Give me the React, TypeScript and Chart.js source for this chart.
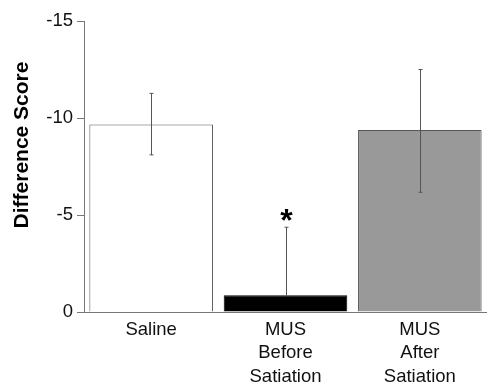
import React, { useEffect, useRef } from "react";
import { Chart, registerables } from "chart.js";

Chart.register(...registerables);

const categories: (string | string[])[] = ["Saline", ["MUS", "Before", "Satiation"], ["MUS", "After", "Satiation"]];
const means = [-9.67, -0.86, -9.38];
const errUpper = [-11.27, -4.37, -12.5];
const errLower: (number | null)[] = [-8.1, null, -6.17];
const significant = [false, true, false];
const yTicks = [0, -5, -10, -15];
const fills = ["#ffffff", "#000000", "#999999"];
const borders = ["#555555", "#000000", "#555555"];

const FONT = "'Liberation Sans', Arial, sans-serif";

const errorBarPlugin = {
  id: "errorBars",
  afterDatasetsDraw(chart: any) {
    const ctx = chart.ctx;
    const meta = chart.getDatasetMeta(0);
    const y = chart.scales.y;
    ctx.save();
    ctx.strokeStyle = "#555555";
    ctx.lineWidth = 1;
    meta.data.forEach((bar: any, i: number) => {
      const x = Math.round(bar.x) + 0.5;
      const yMean = y.getPixelForValue(means[i]);
      const yTop = y.getPixelForValue(errUpper[i]);
      const low = errLower[i];
      const yBot = low === null ? yMean : y.getPixelForValue(low);
      ctx.beginPath();
      ctx.moveTo(x, yTop);
      ctx.lineTo(x, yBot);
      ctx.moveTo(x - 2, yTop);
      ctx.lineTo(x + 2, yTop);
      if (low !== null) {
        ctx.moveTo(x - 2, yBot);
        ctx.lineTo(x + 2, yBot);
      }
      ctx.stroke();
      if (significant[i]) {
        ctx.fillStyle = "#000";
        ctx.font = `bold 32px ${FONT}`;
        ctx.textAlign = "center";
        ctx.textBaseline = "middle";
        ctx.fillText("*", x, yTop - 5);
      }
    });
    ctx.restore();
  },
};

const yTitlePlugin = {
  id: "yTitleCustom",
  afterDraw(chart: any) {
    const ctx = chart.ctx;
    ctx.save();
    ctx.translate(22, 145);
    ctx.rotate(-Math.PI / 2);
    ctx.fillStyle = "#000";
    ctx.font = `bold 21px ${FONT}`;
    ctx.textAlign = "center";
    ctx.textBaseline = "middle";
    ctx.fillText("Difference Score", 0, 0);
    ctx.restore();
  },
};

export default function App() {
  const ref = useRef<HTMLCanvasElement>(null);
  useEffect(() => {
    document.body.style.margin = "0";
    const chart = new Chart(ref.current!, {
      type: "bar",
      data: {
        labels: categories as any,
        datasets: [
          {
            data: means,
            backgroundColor: fills,
            borderColor: borders,
            borderWidth: 1,
            barPercentage: 0.92,
            categoryPercentage: 1,
          },
        ],
      },
      options: {
        animation: false,
        responsive: false,
        layout: { padding: { top: 21, right: 0, left: 0, bottom: 0 } },
        plugins: { legend: { display: false }, tooltip: { enabled: false }, title: { display: false } },
        scales: {
          x: {
            offset: true,
            grid: { display: false, drawTicks: false },
            border: { display: true, color: "#777777", width: 1 },
            ticks: {
              color: "#111",
              font: { family: FONT, size: 18.5, lineHeight: 1.27 },
              padding: 6,
              maxRotation: 0,
              autoSkip: false,
            },
            afterFit(scale: any) {
              scale.height = 70;
            },
          },
          y: {
            min: -15,
            max: 0,
            reverse: true,
            afterBuildTicks(scale: any) {
              scale.ticks = yTicks.map((v) => ({ value: v }));
            },
            grid: { drawOnChartArea: false, drawTicks: true, tickLength: 7, color: "#777777" },
            border: { display: true, color: "#777777", width: 1 },
            ticks: {
              color: "#111",
              font: { family: FONT, size: 18.5 },
              padding: 4,
            },
            afterFit(scale: any) {
              scale.width = 84;
            },
          },
        },
      },
      plugins: [errorBarPlugin, yTitlePlugin],
    });
    return () => chart.destroy();
  }, []);
  return (
    <div style={{ width: 487, height: 382 }}>
      <canvas ref={ref} width={487} height={382} style={{ display: "block" }} />
    </div>
  );
}
